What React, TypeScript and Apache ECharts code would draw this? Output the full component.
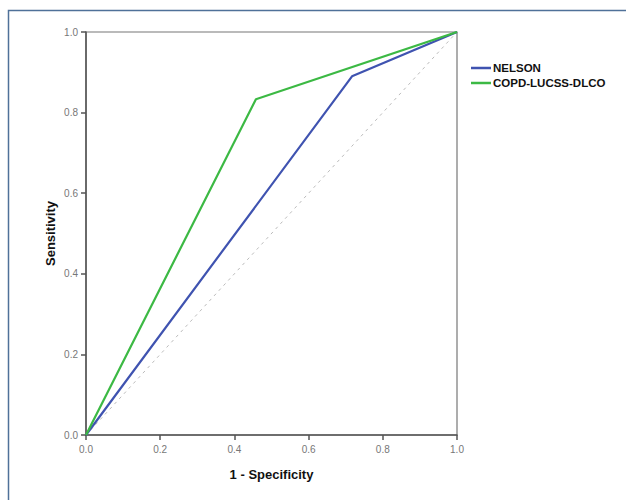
import React, { useEffect, useRef } from "react";
import * as echarts from "echarts";

const nelsonFpr = [0, 0.717, 1];
const nelsonTpr = [0, 0.89, 1];
const copdFpr = [0, 0.458, 1];
const copdTpr = [0, 0.833, 1];
const refFpr = [0, 1];
const refTpr = [0, 1];
const seriesNames = ["NELSON", "COPD-LUCSS-DLCO"];

const zip = (xs: number[], ys: number[]) => xs.map((x, i) => [x, ys[i]]);

export default function App() {
  const ref = useRef<HTMLDivElement>(null);
  useEffect(() => {
    if (!ref.current) return;
    const chart = echarts.init(ref.current, undefined, { renderer: "svg" });
    const axisCommon = {
      type: "value" as const,
      min: 0,
      max: 1,
      interval: 0.2,
      splitLine: { show: false },
      axisLine: { show: true, lineStyle: { color: "#555", width: 1.5 } },
      axisTick: { show: true, length: 5, lineStyle: { color: "#555", width: 1.5 } },
      axisLabel: {
        color: "#777",
        fontSize: 10,
        fontFamily: "Liberation Sans, Arial, sans-serif",
        formatter: (v: number) => v.toFixed(1),
      },
      nameLocation: "middle" as const,
      nameMoveOverlap: false,
      nameTextStyle: {
        color: "#111",
        fontWeight: "bold" as const,
        fontSize: 13,
        fontFamily: "Liberation Sans, Arial, sans-serif",
      },
    };
    chart.setOption({
      animation: false,
      backgroundColor: "#fff",
      graphic: [
        {
          type: "rect",
          shape: { x: 8.5, y: 10.5, width: 700, height: 600 },
          style: { fill: "none", stroke: "#4f7199", lineWidth: 1.5 },
          silent: true,
        },
      ],
      grid: {
        left: 86,
        right: 169,
        top: 32,
        bottom: 65,
        show: true,
        borderColor: "#777",
        borderWidth: 1.2,
      },
      legend: {
        orient: "vertical",
        left: 466,
        top: 57,
        icon: "rect",
        itemWidth: 20,
        itemHeight: 2.5,
        itemGap: 3,
        data: seriesNames,
        textStyle: {
          color: "#111",
          fontWeight: "bold",
          fontSize: 11.5,
          fontFamily: "Liberation Sans Narrow, Liberation Sans, Arial, sans-serif",
          padding: [0, 0, 0, -3],
        },
      },
      xAxis: {
        ...axisCommon,
        name: "1 - Specificity",
        nameGap: 33,
        axisLabel: { ...axisCommon.axisLabel, margin: 9 },
      },
      yAxis: {
        ...axisCommon,
        name: "Sensitivity",
        nameGap: 29,
        axisLabel: { ...axisCommon.axisLabel, margin: 8 },
      },
      series: [
        {
          name: "reference",
          type: "line",
          data: zip(refFpr, refTpr),
          symbol: "none",
          lineStyle: { color: "#bbb", width: 1, type: [3, 4] },
          silent: true,
        },
        {
          name: seriesNames[0],
          type: "line",
          data: zip(nelsonFpr, nelsonTpr),
          symbol: "none",
          color: "#3f53b0",
          lineStyle: { color: "#3f53b0", width: 2.2 },
        },
        {
          name: seriesNames[1],
          type: "line",
          data: zip(copdFpr, copdTpr),
          symbol: "none",
          color: "#3cb944",
          lineStyle: { color: "#3cb944", width: 2.2 },
        },
      ],
    });
    return () => chart.dispose();
  }, []);
  return (
    <div
      ref={ref}
      style={{ position: "absolute", left: 0, top: 0, width: 626, height: 500 }}
    />
  );
}
